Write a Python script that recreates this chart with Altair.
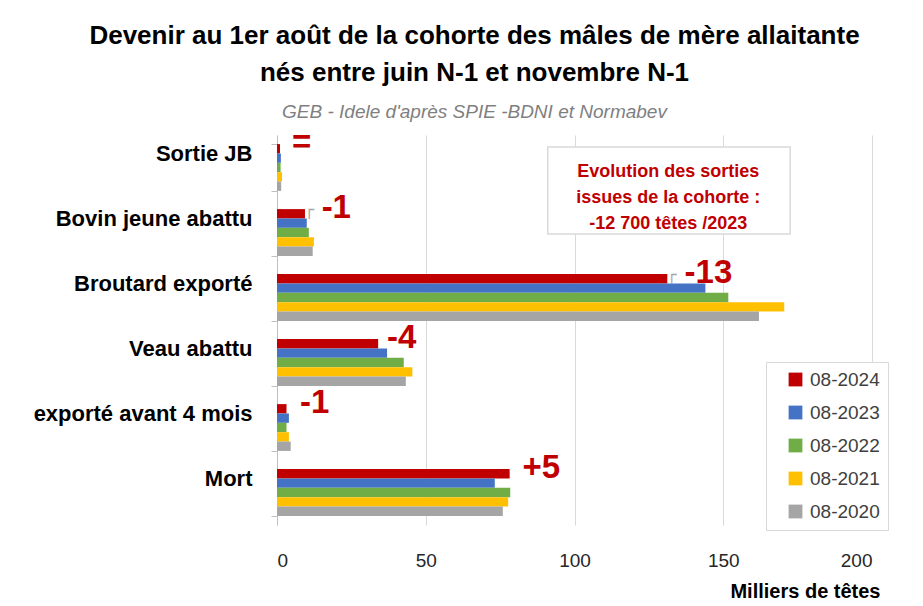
import altair as alt
import pandas as pd

categories = ["Sortie JB", "Bovin jeune abattu", "Broutard exporté", "Veau abattu",
              "exporté avant 4 mois", "Mort"]
series = ["08-2024", "08-2023", "08-2022", "08-2021", "08-2020"]
colors = ["#C00000", "#4472C4", "#70AD47", "#FFC000", "#A5A5A5"]

v2024 = [1.0, 9.4, 131.2, 34.0, 3.2, 78.2]
v2023 = [1.3, 10.0, 144.0, 37.0, 4.0, 73.2]
v2022 = [1.2, 10.7, 151.7, 42.6, 3.2, 78.4]
v2021 = [1.7, 12.4, 170.5, 45.5, 4.0, 77.7]
v2020 = [1.4, 12.0, 162.0, 43.3, 4.6, 75.9]

evolution_labels = ["=", "-1", "-13", "-4", "-1", "+5"]
evolution_x = [5.0, 15.0, 137.0, 37.0, 7.7, 82.5]

leader_cats = ["Bovin jeune abattu", "Broutard exporté"]
leader_x = [9.6, 131.4]

box_lines = ["Evolution des sorties", "issues de la cohorte :", "-12 700 têtes /2023"]

rows = []
for s, vals in zip(series, [v2024, v2023, v2022, v2021, v2020]):
    for c, v in zip(categories, vals):
        rows.append({"cat": c, "serie": s, "val": v})
df = pd.DataFrame(rows)

ann = pd.DataFrame({"cat": categories, "lab": evolution_labels, "x": evolution_x,
                    "serie": ["08-2024"] * 6})
lead = pd.DataFrame({"cat": leader_cats, "x": leader_x, "serie": ["08-2024"] * 2,
                     "g": ["┌"] * 2})

RED = "#C00000"
FONT = "Liberation Sans"

yscale = alt.Scale(domain=categories, paddingInner=0.28, paddingOuter=0.14)
xscale = alt.Scale(domain=[0, 200], nice=False)
yoff = alt.YOffset("serie:N", sort=series, scale=alt.Scale(domain=series))

bars = alt.Chart(df).mark_bar().encode(
    y=alt.Y("cat:N", scale=yscale, sort=categories, title=None,
            axis=alt.Axis(labelFont=FONT, labelFontWeight="bold",
                          labelFontSize=22, labelColor="#000000", labelPadding=19,
                          labelOffset=-14, labelLimit=300,
                          tickColor="#BFBFBF", tickSize=6, domainColor="#BFBFBF",
                          tickBand="extent", grid=False)),
    x=alt.X("val:Q", scale=xscale, title="Milliers de têtes",
            axis=alt.Axis(values=[0, 50, 100, 150, 200], labelFont=FONT,
                          labelFontSize=19, labelColor="#262626", labelPadding=26,
                          domain=False, ticks=False, gridColor="#D9D9D9",
                          titleFont=FONT, titleFontWeight="bold",
                          titleFontSize=20, titleColor="#000000", titleAlign="right",
                          titleX=603, titleY=66, titleBaseline="middle")),
    yOffset=yoff,
    color=alt.Color("serie:N", scale=alt.Scale(domain=series, range=colors),
                    legend=alt.Legend(title=None, orient="none", legendX=489, legendY=227,
                                      labelFont=FONT, labelFontSize=19,
                                      labelColor="#404040", symbolType="square",
                                      symbolSize=190, symbolStrokeWidth=0,
                                      symbolOffset=12,
                                      rowPadding=13, padding=8,
                                      strokeColor="#D9D9D9", fillColor="white",
                                      labelOffset=5)),
)

leaders = alt.Chart(lead).mark_text(font="DejaVu Sans", fontSize=16, color="#A6A6A6",
                                    align="left", baseline="middle", dy=-4, dx=-1).encode(
    y=alt.Y("cat:N", scale=yscale, sort=categories),
    yOffset=yoff,
    x=alt.X("x:Q", scale=xscale),
    text="g:N",
)

labels = alt.Chart(ann).mark_text(font=FONT, fontWeight="bold", fontSize=33,
                                  color=RED, align="left", baseline="middle", dy=-6).encode(
    y=alt.Y("cat:N", scale=yscale, sort=categories),
    yOffset=yoff,
    x=alt.X("x:Q", scale=xscale),
    text="lab:N",
)

box_df = pd.DataFrame({"x": [91.0], "x2": [172.5], "xm": [131.5],
                       "txt": ["\n".join(box_lines)]})
box = alt.Chart(box_df).mark_rect(fill="white", stroke="#D9D9D9", strokeWidth=1.5).encode(
    x=alt.X("x:Q", scale=xscale), x2="x2:Q",
    y=alt.value(12), y2=alt.value(99),
)
box_txt = alt.Chart(box_df).mark_text(font=FONT, fontWeight="bold", lineBreak="\n",
                                      lineHeight=26, fontSize=18, color=RED,
                                      align="center", baseline="middle").encode(
    x=alt.X("xm:Q", scale=xscale),
    y=alt.value(37),
    text="txt:N",
)

chart = alt.layer(bars, leaders, labels, box, box_txt).properties(
    width=595, height=390,
    autosize=alt.AutoSizeParams(type="none"),
    padding={"left": 269, "top": 127, "right": 40, "bottom": 80},
    title=alt.TitleParams(
        text=["Devenir au 1er août de la cohorte des mâles de mère allaitante",
              "nés entre juin N-1 et novembre N-1"],
        subtitle="GEB - Idele d'après SPIE -BDNI et Normabev",
        font=FONT, fontSize=26, fontWeight="bold", color="#000000",
        lineHeight=37, subtitleFont=FONT, subtitleFontSize=19,
        subtitleFontStyle="italic", subtitleColor="#7F7F7F", subtitlePadding=17,
        anchor="middle", dx=-100, offset=2,
    ),
).configure_view(stroke=None)

chart.save("out.html", embed_options={"renderer": "svg", "actions": False})
